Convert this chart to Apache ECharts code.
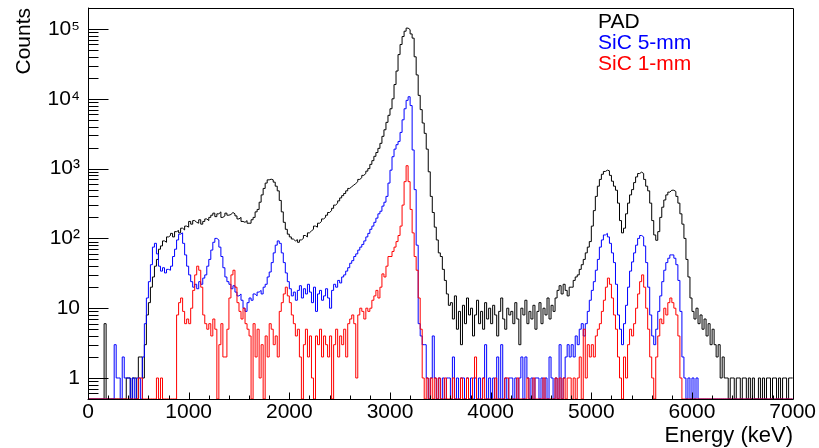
<!DOCTYPE html>
<html><head><meta charset="utf-8">
<script src="https://cdn.jsdelivr.net/npm/echarts@6/dist/echarts.min.js"></script>
<style>html,body{margin:0;padding:0;background:#fff}#c{width:819px;height:448px}</style>
</head><body><div id="c"></div>
<script>
// Histogram bin width (keV); bins start at 0 keV
const binWidth = 20;
const xMin = 0, xMax = 7000, xStep = 1000, xMinorStep = 200;
const yMin = 0.5, yMax = 2e5;

const seriesNames = ['PAD', 'SiC 5-mm', 'SiC 1-mm'];
const seriesColors = ['#000000', '#0000ff', '#ff0000'];

// PAD counts per 20 keV bin (rows of 200 keV)
const pad = [
0,0,0,0,0,0,0,0,6,0,
0,0,0,0,0,0,0,0,0,1,
1,0,1,1,0,2,2,1,3,8,
12,20,28,40,50,70,78,92,88,105,
110,118,105,125,130,120,140,132,150,145,
175,160,180,170,165,185,160,175,190,180,
200,215,230,205,225,240,200,210,230,215,
220,235,225,210,190,200,175,170,180,165,
165,185,200,240,260,330,420,520,620,690,
705,690,640,560,480,350,240,170,135,115,
105,98,92,96,88,95,100,110,105,120,
128,135,150,145,165,175,190,200,215,235,
250,270,300,320,345,380,410,440,480,520,
550,580,610,650,700,740,800,850,920,1000,
1150,1300,1500,1700,1950,2300,2900,3600,4600,5800,
7200,10000,16000,25000,43000,60000,78000,93000,103000,98000,
85000,74000,40000,22000,11200,7000,4500,3200,1900,900,
400,235,145,95,62,55,36,25,16,11,
12,7,15,5,9,3,11,6,14,8,
10,4,8,13,6,9,5,12,7,10,
6,11,8,4,9,14,7,5,10,8,
9,6,12,7,3,10,8,13,6,9,
7,11,5,9,12,6,10,8,14,7,
11,9,14,18,21,16,22,18,15,20,
20,25,28,30,36,42,50,62,75,90,
150,250,400,560,700,830,910,950,930,800,
660,560,490,320,180,120,140,225,320,420,
500,630,760,850,890,850,700,560,480,320,
180,112,94,125,200,280,355,420,460,490,
490,470,400,320,225,160,100,50,28,14,
9,7,10,6,8,5,7,4,6,3,
5,3,2,3,1,2,1,1,0,1,
1,0,1,1,0,1,1,0,1,0,
1,0,0,1,0,1,0,1,1,0,
1,1,0,1,0,1,1,0,1,1
];

// SiC 5-mm counts per 20 keV bin
const sic5 = [
0,0,0,0,0,0,0,0,0,0,
0,0,0,3,1,1,0,2,1,1,
1,0,1,0,1,1,0,2,6,14,
24,42,75,85,60,40,34,38,32,36,
35,40,55,70,95,115,120,85,58,40,
30,24,20,22,19,24,22,27,30,40,
50,68,88,100,95,75,55,38,28,24,
22,19,21,17,15,16,13,10,9,12,
14,13,16,15,17,18,16,20,22,28,
33,45,62,80,92,85,62,45,32,24,
19,15,17,13,18,21,14,19,16,22,
17,12,20,9,16,18,13,15,19,14,
10,18,22,20,25,23,28,30,34,38,
44,48,55,60,68,75,82,92,105,118,
135,150,170,195,225,245,290,330,400,620,
950,1480,1900,2200,2450,3300,5000,7200,9500,10700,
8000,1850,500,80,6,4,3,3,1,0,
1,4,1,0,1,0,1,0,1,1,
0,2,0,1,0,1,1,0,1,0,
1,0,1,0,1,0,1,3,0,1,
0,1,0,2,0,3,0,1,0,1,
1,0,1,0,1,2,0,2,1,0,
1,0,1,1,0,1,0,1,0,2,
1,0,1,0,3,0,1,2,3,2,
3,2,4,3,5,6,4,6,9,13,
18,24,35,50,75,95,112,118,105,85,
62,45,22,8,5,3,6,11,20,34,
46,62,80,100,110,105,78,45,20,8,
4,3,5,9,15,24,35,45,52,58,
58,52,42,25,9,2,1,0,1,0,
1,0,1,0,0,0,0,0,0,0,
0,0,0,0,0,0,0,0,0,0,
0,0,0,0,0,0,0,0,0,0,
0,0,0,0,0,0,0,0,0,0,
0,0,0,0,0,0,0,0,0,0
];

// SiC 1-mm counts per 20 keV bin
const sic1 = [
0,0,0,0,0,0,0,0,0,0,
0,0,0,0,0,0,0,0,0,0,
0,0,0,0,0,1,1,0,0,0,
0,0,0,0,1,0,1,0,0,0,
0,0,0,0,8,12,14,9,6,7,
6,10,18,30,40,35,20,8,6,5,
6,4,7,5,0,3,6,2,2,5,
14,30,35,20,12,9,7,10,6,5,
4,0,6,2,5,1,3,0,4,2,
6,5,3,4,2,9,12,16,20,15,
12,8,6,4,5,2,0,3,5,2,
4,1,0,4,3,5,2,4,3,2,
4,0,3,5,2,4,3,5,2,6,
7,8,6,1,8,10,9,7,10,9,
10,13,15,18,14,20,31,28,40,55,
55,65,75,90,110,150,300,650,1100,650,
260,120,55,35,14,5,1,0,1,0,
1,0,1,0,1,0,0,1,0,0,
0,1,0,0,0,1,0,0,1,0,
0,1,2,0,0,0,1,0,0,0,
0,0,1,0,0,0,0,1,1,0,
0,0,0,1,0,0,0,0,1,0,
0,1,0,0,0,0,1,0,0,0,
0,0,1,0,1,0,1,0,1,1,
0,1,0,1,2,0,5,1,3,2,
3,2,4,5,6,9,13,20,27,22,
14,8,5,2,1,0,2,1,3,5,
4,6,10,16,24,30,20,10,5,2,
1,0,2,4,7,6,10,8,12,14,
12,10,8,4,1,0,0,0,0,0,
0,0,0,0,0,0,0,0,0,0,
0,0,0,0,0,0,0,0,0,0,
0,0,0,0,0,0,0,0,0,0,
0,0,0,0,0,0,0,0,0,0,
0,0,0,0,0,0,0,0,0,0
];

// Tick positions (axis values)
const yMajorTicks = [1, 10, 100, 1000, 10000, 100000];
const yMinorTicks = [];
for (let e = -1; e <= 5; e++) {
  for (let m = 2; m <= 9; m++) {
    const v = m * Math.pow(10, e);
    if (v > yMin && v < yMax) yMinorTicks.push(v);
  }
}
const xTicks = [];
for (let x = xMin + xMinorStep; x < xMax; x += xMinorStep) xTicks.push(x);

const FONT = "'Liberation Sans', Arial, Helvetica, sans-serif";
const SUP = { 2: '\u00B2', 3: '\u00B3', 4: '\u2074', 5: '\u2075' };

// Empty bins are drawn on the bottom frame, as ROOT does on a log axis
function histData(arr) {
  const pts = [[xMin, arr[0] > 0 ? arr[0] : yMin]];
  arr.forEach((v, i) => pts.push([i * binWidth + binWidth / 2, v > 0 ? v : yMin]));
  pts.push([xMax, arr[arr.length - 1] > 0 ? arr[arr.length - 1] : yMin]);
  return pts;
}

function yLabel(v) {
  const l = Math.log10(v), r = Math.round(l);
  if (Math.abs(l - r) > 1e-6) return '';
  if (r === 0) return '1';
  if (r === 1) return '10';
  return '10' + (SUP[r] || '');
}

const chart = echarts.init(document.getElementById('c'));
const dataSets = [pad, sic5, sic1];

chart.setOption({
  animation: false,
  grid: { left: 88, right: 26, top: 8, bottom: 49 },
  xAxis: {
    type: 'value', min: xMin, max: xMax, interval: xStep,
    axisLine: { show: true, lineStyle: { color: '#000' } },
    axisTick: { show: false },
    splitLine: { show: false },
    axisLabel: { color: '#000', fontSize: 21, fontFamily: FONT, margin: 3, formatter: function (v) { return String(v); } }
  },
  yAxis: {
    type: 'log', min: yMin, max: yMax,
    axisLine: { show: true, lineStyle: { color: '#000' } },
    axisTick: { show: false },
    splitLine: { show: false },
    axisLabel: { customValues: yMajorTicks, formatter: yLabel, color: '#000', fontSize: 21, fontFamily: FONT, margin: 8 }
  },
  series: dataSets.map((arr, k) => ({
    name: seriesNames[k], type: 'line', step: 'middle', symbol: 'none',
    data: histData(arr), z: 2 + k,
    lineStyle: { color: seriesColors[k], width: 1 }
  }))
});

// Frame and ticks, positioned through the chart's own axis scales
const toPx = (x, y) => chart.convertToPixel({ gridIndex: 0 }, [x, y]);
const snap = v => Math.round(v) + 0.5;
const lines = [];
function seg(x1, y1, x2, y2) {
  lines.push({ type: 'line', z: 100, silent: true, shape: { x1: x1, y1: y1, x2: x2, y2: y2 }, style: { stroke: '#000', lineWidth: 1 } });
}
const tl = toPx(xMin, yMax), br = toPx(xMax, yMin);
const L = snap(tl[0]), T = snap(tl[1]), R = snap(br[0]), B = snap(br[1]);
seg(L, T, R, T); seg(R, T, R, B); seg(L, B, R, B); seg(L, T, L, B);
yMajorTicks.forEach(v => { const y = snap(toPx(xMin, v)[1]); seg(L, y, L + 20, y); });
yMinorTicks.forEach(v => { const y = snap(toPx(xMin, v)[1]); seg(L, y, L + 10, y); });
xTicks.forEach(x => { const px = snap(toPx(x, yMin)[0]); seg(px, B, px, B - (x % xStep === 0 ? 7 : 4)); });

chart.setOption({
  graphic: lines.concat([
    { type: 'text', x: 24, y: 8, rotation: Math.PI / 2,
      style: { text: 'Counts', font: '21px ' + FONT, fill: '#000', align: 'right', verticalAlign: 'middle' } },
    { type: 'text', x: 793, y: 436, style: { text: 'Energy (keV)', font: '22px ' + FONT, fill: '#000', align: 'right', verticalAlign: 'middle' } },
    { type: 'text', x: 598, y: 22, style: { text: seriesNames[0], font: '21px ' + FONT, fill: seriesColors[0], align: 'left', verticalAlign: 'middle' } },
    { type: 'text', x: 598, y: 43, style: { text: seriesNames[1], font: '21px ' + FONT, fill: seriesColors[1], align: 'left', verticalAlign: 'middle' } },
    { type: 'text', x: 598, y: 64.5, style: { text: seriesNames[2], font: '21px ' + FONT, fill: seriesColors[2], align: 'left', verticalAlign: 'middle' } }
  ])
});
</script>
</body></html>
